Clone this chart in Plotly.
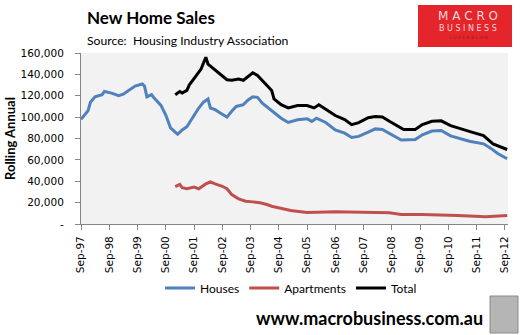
import plotly.graph_objects as go

# ---------------- data ----------------
houses_dates = ["1997-09", "1997-12", "1998-01", "1998-03", "1998-06", "1998-07", "1998-10", "1999-01",
                "1999-03", "1999-06", "1999-08", "1999-11", "1999-12", "2000-01", "2000-03", "2000-04",
                "2000-07", "2000-09", "2000-11", "2001-01", "2001-02", "2001-04", "2001-06", "2001-08",
                "2001-11", "2002-01", "2002-03", "2002-04", "2002-06", "2002-08", "2002-11", "2003-01",
                "2003-03", "2003-06", "2003-08", "2003-10", "2003-12", "2004-02", "2004-05", "2004-07",
                "2004-10", "2005-01", "2005-05", "2005-09", "2005-11", "2006-01", "2006-05", "2006-09",
                "2007-01", "2007-04", "2007-07", "2007-11", "2008-02", "2008-05", "2008-08", "2009-01",
                "2009-07", "2009-10", "2010-02", "2010-06", "2010-10", "2011-02", "2011-06", "2011-12",
                "2012-03", "2012-06", "2012-10"]
houses = [98000, 106000, 114000, 119000, 121000, 124000, 122500, 120000,
          121500, 126000, 129000, 131000, 129000, 119000, 121000, 118000,
          111000, 102000, 90000, 86000, 84000, 88000, 91000, 98000,
          108500, 114000, 117000, 108500, 107000, 104000, 100000, 105500,
          110000, 111700, 116000, 119000, 118500, 113000, 108000, 105000,
          99000, 95000, 97500, 98500, 96000, 99000, 95000, 88000,
          85000, 81000, 82000, 86000, 89000, 88500, 85000, 78500,
          79000, 83500, 87000, 87500, 82500, 80000, 77500, 75000,
          71000, 66000, 61000]

apartments_dates = ["2001-01", "2001-03", "2001-04", "2001-06", "2001-09", "2001-11", "2002-02", "2002-04",
                    "2002-06", "2002-09", "2002-11", "2003-01", "2003-04", "2003-07", "2003-10", "2004-01",
                    "2004-04", "2004-06", "2005-02", "2005-09", "2006-09", "2007-10", "2008-08", "2009-01",
                    "2009-10", "2011-01", "2012-01", "2012-10"]
apartments = [35000, 37000, 34000, 33000, 34500, 33000, 37500, 39500,
              37500, 35300, 33000, 27600, 23500, 21300, 20700, 19800,
              18200, 16600, 12600, 10800, 11400, 10500, 10500, 8900,
              8900, 7900, 6700, 7900]

total_dates = ["2001-01", "2001-03", "2001-04", "2001-06", "2001-07", "2001-09", "2001-12", "2002-01",
               "2002-02", "2002-03", "2002-05", "2002-08", "2002-11", "2003-01", "2003-04", "2003-06",
               "2003-08", "2003-10", "2003-12", "2004-03", "2004-06", "2004-07", "2004-10", "2005-01",
               "2005-05", "2005-09", "2005-12", "2006-02", "2006-05", "2006-09", "2007-01", "2007-04",
               "2007-07", "2007-11", "2008-02", "2008-05", "2008-08", "2009-02", "2009-07", "2009-10",
               "2010-02", "2010-06", "2010-10", "2011-02", "2011-07", "2011-12", "2012-04", "2012-10"]
total = [121000, 124000, 122500, 125000, 130000, 136500, 145000, 150500,
         156000, 149500, 146000, 140000, 135000, 134500, 135700, 134500,
         138000, 141500, 139000, 132500, 125000, 117000, 111700, 108600,
         110800, 110800, 108600, 111500, 107500, 101500, 97700, 93000,
         94800, 99500, 100500, 100200, 96100, 88400, 88400, 93000,
         96100, 96500, 92000, 89000, 86000, 82700, 75000, 69700]

y_ticks = [0, 20000, 40000, 60000, 80000, 100000, 120000, 140000, 160000]
y_labels = ["-", "20,000", "40,000", "60,000", "80,000", "100,000", "120,000", "140,000", "160,000"]

# ---------------- layout helpers ----------------
W, H = 521, 335
L, R, T, B = 81, 13, 53, 111
PW, PH = W - L - R, H - T - B


def px(x):
    return (x - L) / PW


def py(y):
    return (H - B - y) / PH


fig = go.Figure()
fig.add_trace(go.Scatter(x=houses_dates, y=houses, name="Houses", mode="lines",
                         line=dict(color="#4F81BD", width=3)))
fig.add_trace(go.Scatter(x=apartments_dates, y=apartments, name="Apartments", mode="lines",
                         line=dict(color="#C0504D", width=3)))
fig.add_trace(go.Scatter(x=total_dates, y=total, name="Total", mode="lines",
                         line=dict(color="#000000", width=3)))

tick_font = dict(family="DejaVu Sans", size=10.5, color="#000000")
fig.update_layout(
    width=W, height=H,
    margin=dict(l=L, r=R, t=T, b=B),
    paper_bgcolor="white",
    plot_bgcolor="#F2F2F2",
    showlegend=True,
    legend=dict(orientation="h", x=px(291), xanchor="center", y=py(288), yanchor="middle",
                font=dict(family="Lato", size=12, color="#000000"),
                bgcolor="rgba(0,0,0,0)", itemwidth=30, tracegroupgap=0),
    xaxis=dict(type="date", range=["1997-09-01", "2012-10-12"],
               tick0="1997-09-01", dtick="M12", tickformat="%b-%y", tickangle=-90,
               showgrid=False, zeroline=False, showline=True, linecolor="#868686", linewidth=1,
               ticks="outside", ticklen=5, tickcolor="#868686", tickfont=tick_font,
               ticklabelstandoff=2),
    yaxis=dict(range=[0, 160000], tickvals=y_ticks, ticktext=y_labels,
               showgrid=False, zeroline=False, showline=True, linecolor="#868686", linewidth=1,
               ticks="outside", ticklen=5, tickcolor="#868686", tickfont=tick_font,
               ticklabelstandoff=9),
)

ann = []
ann.append(dict(text="<b>New Home Sales</b>", x=px(85), y=py(18), xanchor="left", yanchor="middle",
                font=dict(family="Lato", size=17, color="#000000")))
ann.append(dict(text="Source:  Housing Industry Association", x=px(85), y=py(40), xanchor="left",
                yanchor="middle", font=dict(family="Lato", size=12.2, color="#000000")))
ann.append(dict(text="<b>Rolling Annual</b>", x=px(10), y=py(139), xanchor="center", yanchor="middle",
                textangle=-90, font=dict(family="Lato", size=13, color="#000000")))
ann.append(dict(text="<b>www.macrobusiness.com.au</b>", x=px(369), y=py(318), xanchor="center",
                yanchor="middle", font=dict(family="Lato", size=18, color="#000000")))
# logo text
ann.append(dict(text="M A C R O", x=px(468), y=py(16), xanchor="center", yanchor="middle",
                font=dict(family="DejaVu Sans", size=12, color="#F4DADA")))
ann.append(dict(text="B U S I N E S S", x=px(468), y=py(28), xanchor="center", yanchor="middle",
                font=dict(family="DejaVu Sans", size=8, color="#F4DADA")))
ann.append(dict(text="S U P E R B L O G", x=px(468), y=py(38), xanchor="center", yanchor="middle",
                font=dict(family="DejaVu Sans", size=4.5, color="#9E1A1E")))
for a in ann:
    a.update(xref="paper", yref="paper", showarrow=False)
fig.update_layout(annotations=ann)

shapes = [
    dict(type="rect", xref="paper", yref="paper", x0=px(418), x1=px(512), y0=py(47), y1=py(5),
         fillcolor="#E4252B", line=dict(width=0), layer="below"),
    dict(type="rect", xref="paper", yref="paper", x0=px(490), x1=px(518), y0=py(333), y1=py(296),
         fillcolor="#B5B5B5", line=dict(color="#8A8A8A", width=1), layer="below"),
]
fig.update_layout(shapes=shapes)

fig.write_html("out.html")
